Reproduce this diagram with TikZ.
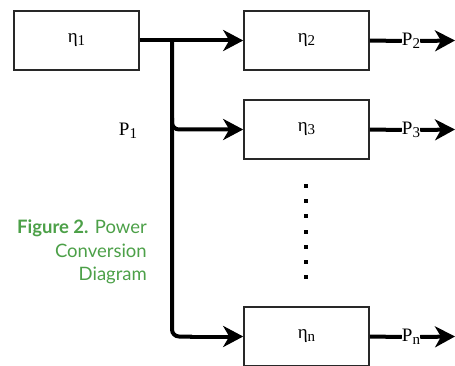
\documentclass[tikz,border=0pt]{standalone}
\usepackage{fontspec}
\setmainfont{Liberation Serif}
\newfontfamily\capfont{Lato}
\usetikzlibrary{arrows.meta}
\definecolor{capgreen}{RGB}{76,160,72}
\definecolor{boxline}{RGB}{40,40,40}
\newcommand{\lowsub}[1]{\raisebox{-2.5pt}{\fontsize{15}{15}\selectfont #1}}
\begin{document}
\begin{tikzpicture}[x=1pt,y=-1pt,
  blk/.style={draw=boxline,line width=1.6pt,minimum width=125pt,minimum height=59pt,inner sep=0pt,font=\fontsize{19}{21}\selectfont},
  flow/.style={line width=4pt,-{Stealth[length=20pt,width=21pt,inset=6pt]}},
  plain/.style={line width=4pt},
  plab/.style={inner sep=0pt,font=\fontsize{19}{21}\selectfont},
  captext/.style={align=right,text=capgreen,font=\capfont\fontsize{18.5}{23.5}\selectfont,inner sep=0pt,anchor=north east}]
\useasboundingbox (0,0) rectangle (455,366);
\node[blk] (e1) at (76.5,40.5) {η\lowsub{1}};
\node[blk] (e2) at (306.5,40.5) {η\lowsub{2}};
\node[blk] (e3) at (306.5,129.5) {η\lowsub{3}};
\node[blk] (en) at (306.5,336.5) {η\lowsub{n}};
\coordinate (j) at (172,40.5);
\coordinate (b3) at (172,129.5);
\coordinate (bn) at (172,336.5);
\draw[flow] (e1.east) -- (e2.west);
\draw[plain,rounded corners=7pt] (j) -- (bn) -- ++(20,0);
\draw[flow,rounded corners=7pt] (172,118) -- (b3) -- (e3.west);
\draw[flow] (190,336.5) -- (en.west);
\node[plab] (p1) at (128,131) {P\lowsub{1}};
\node[plab] (p2) at (411,41) {P\lowsub{2}};
\node[plab] (p3) at (411,130) {P\lowsub{3}};
\node[plab] (pn) at (411,337) {P\lowsub{n}};
\coordinate (o2) at (455,40.5);
\coordinate (o3) at (455,129.5);
\coordinate (on) at (455,336.5);
\draw[plain] (e2.east) -- (p2.west);
\draw[flow] (p2.east) -- (o2);
\draw[plain] (e3.east) -- (p3.west);
\draw[flow] (p3.east) -- (o3);
\draw[plain] (en.east) -- (pn.west);
\draw[flow] (pn.east) -- (on);
\foreach \k in {0,...,6} \fill (303.5,{184.5+\k*15}) rectangle ++(4,4);
\node[captext] (caption) at (147,220) {\textbf{Figure 2.} Power\\Conversion\\Diagram};
\end{tikzpicture}
\end{document}
